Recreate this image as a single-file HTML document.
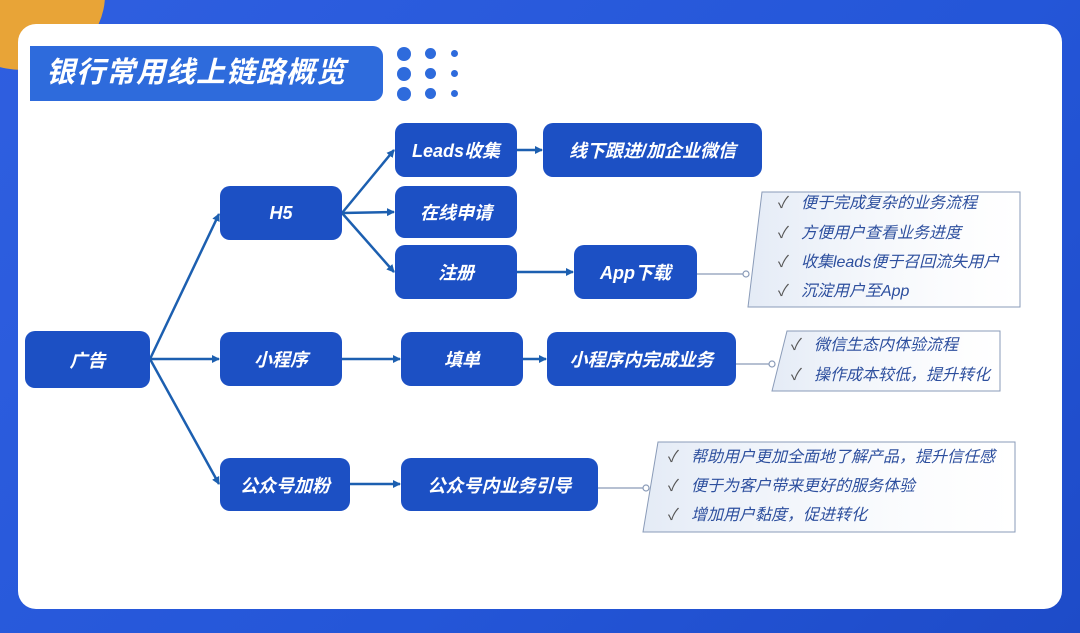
<!DOCTYPE html>
<html><head><meta charset="utf-8"><style>
*{margin:0;padding:0;box-sizing:border-box}
body{width:1080px;height:633px;overflow:hidden;position:relative;font-family:"Liberation Sans","Noto Sans CJK SC",sans-serif;background:linear-gradient(135deg,#2f5fe0 0%,#2456d8 60%,#1e4bc8 100%)}
.orange{position:absolute;left:-60px;top:-80px;width:165px;height:150px;background:#e8a437;border-radius:50%}
.card{position:absolute;left:18px;top:24px;width:1044px;height:585px;background:#fff;border-radius:18px}
.title{position:absolute;left:30px;top:46px;width:353px;height:55px;background:#2e6bdc;border-radius:0 10px 10px 0;color:#fff;font-size:29px;font-weight:bold;line-height:55px;padding-left:16px;font-style:italic;letter-spacing:1px}
.dot{position:absolute;background:#2e6bdc;border-radius:50%}
.n{position:absolute;background:#1c50c4;color:#fff;border-radius:10px;font-size:18px;font-weight:bold;display:flex;align-items:center;justify-content:center;font-style:italic}
.note{position:absolute;color:#2d4f9e;font-size:16px;font-style:italic}
.note div{height:22px;line-height:22px;white-space:nowrap}
.note span{color:#555;margin-right:12px;font-style:normal}
svg{position:absolute;left:0;top:0}
</style></head><body>
<div class="orange"></div>
<div class="card"></div>
<div class="title">银行常用线上链路概览</div>
<div class="dot" style="left:397px;top:47px;width:14px;height:14px"></div>
<div class="dot" style="left:425px;top:48px;width:11px;height:11px"></div>
<div class="dot" style="left:451px;top:50px;width:7px;height:7px"></div>
<div class="dot" style="left:397px;top:67px;width:14px;height:14px"></div>
<div class="dot" style="left:425px;top:68px;width:11px;height:11px"></div>
<div class="dot" style="left:451px;top:70px;width:7px;height:7px"></div>
<div class="dot" style="left:397px;top:87px;width:14px;height:14px"></div>
<div class="dot" style="left:425px;top:88px;width:11px;height:11px"></div>
<div class="dot" style="left:451px;top:90px;width:7px;height:7px"></div>
<svg width="1080" height="633">
<defs><marker id="a" markerWidth="8" markerHeight="8" refX="7" refY="4" orient="auto" markerUnits="userSpaceOnUse"><path d="M0,0 L8,4 L0,8 z" fill="#1c5fb0"/></marker>
<linearGradient id="g" x1="0" x2="1"><stop offset="0" stop-color="#e4ebf6"/><stop offset="1" stop-color="#fff" stop-opacity="0.4"/></linearGradient></defs>
<g stroke="#1c5fb0" stroke-width="2.5" fill="none" marker-end="url(#a)">
<line x1="150" y1="359" x2="219" y2="214"/>
<line x1="150" y1="359" x2="219" y2="359"/>
<line x1="150" y1="359" x2="219" y2="484"/>
<line x1="342" y1="213" x2="394" y2="150"/>
<line x1="342" y1="213" x2="394" y2="212"/>
<line x1="342" y1="213" x2="394" y2="272"/>
<line x1="517" y1="150" x2="542" y2="150"/>
<line x1="517" y1="272" x2="573" y2="272"/>
<line x1="342" y1="359" x2="400" y2="359"/>
<line x1="523" y1="359" x2="546" y2="359"/>
<line x1="350" y1="484" x2="400" y2="484"/>
</g>
<g stroke="#8a9bb8" stroke-width="1" fill="url(#g)">
<polygon points="762,192 1020,192 1020,307 748,307"/>
<polygon points="787,331 1000,331 1000,391 772,391"/>
<polygon points="658,442 1015,442 1015,532 643,532"/>
</g>
<g stroke="#8a9bb8" stroke-width="1.2" fill="#fff">
<line x1="697" y1="274" x2="744" y2="274"/><circle cx="746" cy="274" r="3"/>
<line x1="736" y1="364" x2="770" y2="364"/><circle cx="772" cy="364" r="3"/>
<line x1="598" y1="488" x2="644" y2="488"/><circle cx="646" cy="488" r="3"/>
</g>
</svg>
<div class="n" style="left:25px;top:331px;width:125px;height:57px">广告</div>
<div class="n" style="left:220px;top:186px;width:122px;height:54px">H5</div>
<div class="n" style="left:220px;top:332px;width:122px;height:54px">小程序</div>
<div class="n" style="left:220px;top:458px;width:130px;height:53px">公众号加粉</div>
<div class="n" style="left:395px;top:123px;width:122px;height:54px">Leads收集</div>
<div class="n" style="left:395px;top:186px;width:122px;height:52px">在线申请</div>
<div class="n" style="left:395px;top:245px;width:122px;height:54px">注册</div>
<div class="n" style="left:543px;top:123px;width:219px;height:54px">线下跟进/加企业微信</div>
<div class="n" style="left:574px;top:245px;width:123px;height:54px">App下载</div>
<div class="n" style="left:401px;top:332px;width:122px;height:54px">填单</div>
<div class="n" style="left:547px;top:332px;width:189px;height:54px">小程序内完成业务</div>
<div class="n" style="left:401px;top:458px;width:197px;height:53px">公众号内业务引导</div>
<div class="note" style="left:778px;top:193px"><div><span>✓</span>便于完成复杂的业务流程</div><div style="margin-top:8px"><span>✓</span>方便用户查看业务进度</div><div style="margin-top:7px"><span>✓</span>收集leads便于召回流失用户</div><div style="margin-top:7px"><span>✓</span>沉淀用户至App</div></div>
<div class="note" style="left:791px;top:335px"><div><span>✓</span>微信生态内体验流程</div><div style="margin-top:8px"><span>✓</span>操作成本较低，提升转化</div></div>
<div class="note" style="left:668px;top:447px"><div><span>✓</span>帮助用户更加全面地了解产品，提升信任感</div><div style="margin-top:7px"><span>✓</span>便于为客户带来更好的服务体验</div><div style="margin-top:7px"><span>✓</span>增加用户黏度，促进转化</div></div>
</body></html>
